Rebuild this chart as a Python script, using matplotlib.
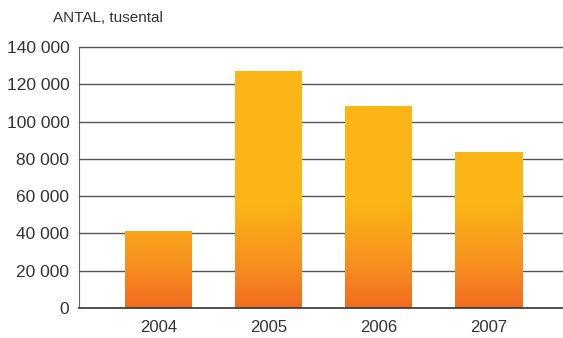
import numpy as np
import matplotlib.pyplot as plt
from matplotlib.colors import LinearSegmentedColormap
from matplotlib.patches import Rectangle

years = ["2004", "2005", "2006", "2007"]
antal = [41500, 127200, 108400, 83800]
yticks = [0, 20000, 40000, 60000, 80000, 100000, 120000, 140000]
ytick_labels = ["0", "20 000", "40 000", "60 000", "80 000", "100 000", "120 000", "140 000"]

plt.rcParams['font.family'] = ['Liberation Sans', 'DejaVu Sans']

fig = plt.figure(figsize=(5.63, 3.38), dpi=100)
ax = fig.add_axes([79/563, 30/338, 1 - 79/563, 261/338])

x = np.arange(len(years))
bw = 67/110

# gradient runs in data space: orange at 0, yellow from ~57000 upwards
cmap = LinearSegmentedColormap.from_list("bar", [(0, "#f26b21"), (0.45, "#f7931e"), (1, "#fbb616")])
grad = np.linspace(0, 1, 256).reshape(-1, 1)
grad = np.clip(grad * 140000 / 57000, 0, 1)

for xi, v in zip(x, antal):
    r = Rectangle((xi - bw/2, 0), bw, v, facecolor="none", edgecolor="none")
    ax.add_patch(r)
    im = ax.imshow(grad, cmap=cmap, vmin=0, vmax=1, origin="lower", aspect="auto",
                   extent=[xi - bw/2, xi + bw/2, 0, 140000], zorder=2)
    im.set_clip_path(r)

ax.set_xlim(-0.72, 3.68)
ax.set_ylim(0, 140000)

for t in yticks[1:]:
    ax.axhline(t, color="#555555", lw=1, zorder=1, clip_on=False)

ax.set_yticks(yticks)
ax.set_yticklabels(ytick_labels)
ax.set_xticks(x)
ax.set_xticklabels(years)
ax.tick_params(axis="both", length=0, labelsize=12.5, colors="#333333")
ax.tick_params(axis="x", labelsize=12, pad=9)
ax.tick_params(axis="y", pad=7)

for s in ["top", "right"]:
    ax.spines[s].set_visible(False)
ax.spines["left"].set_color("#666666")
ax.spines["bottom"].set_color("#333333")
ax.spines["bottom"].set_linewidth(1.2)

fig.text(108/563, 1 - 18/338, "ANTAL, tusental", ha="center", va="center",
         fontsize=11, color="#333333")

fig.savefig("out.png", dpi=100)
